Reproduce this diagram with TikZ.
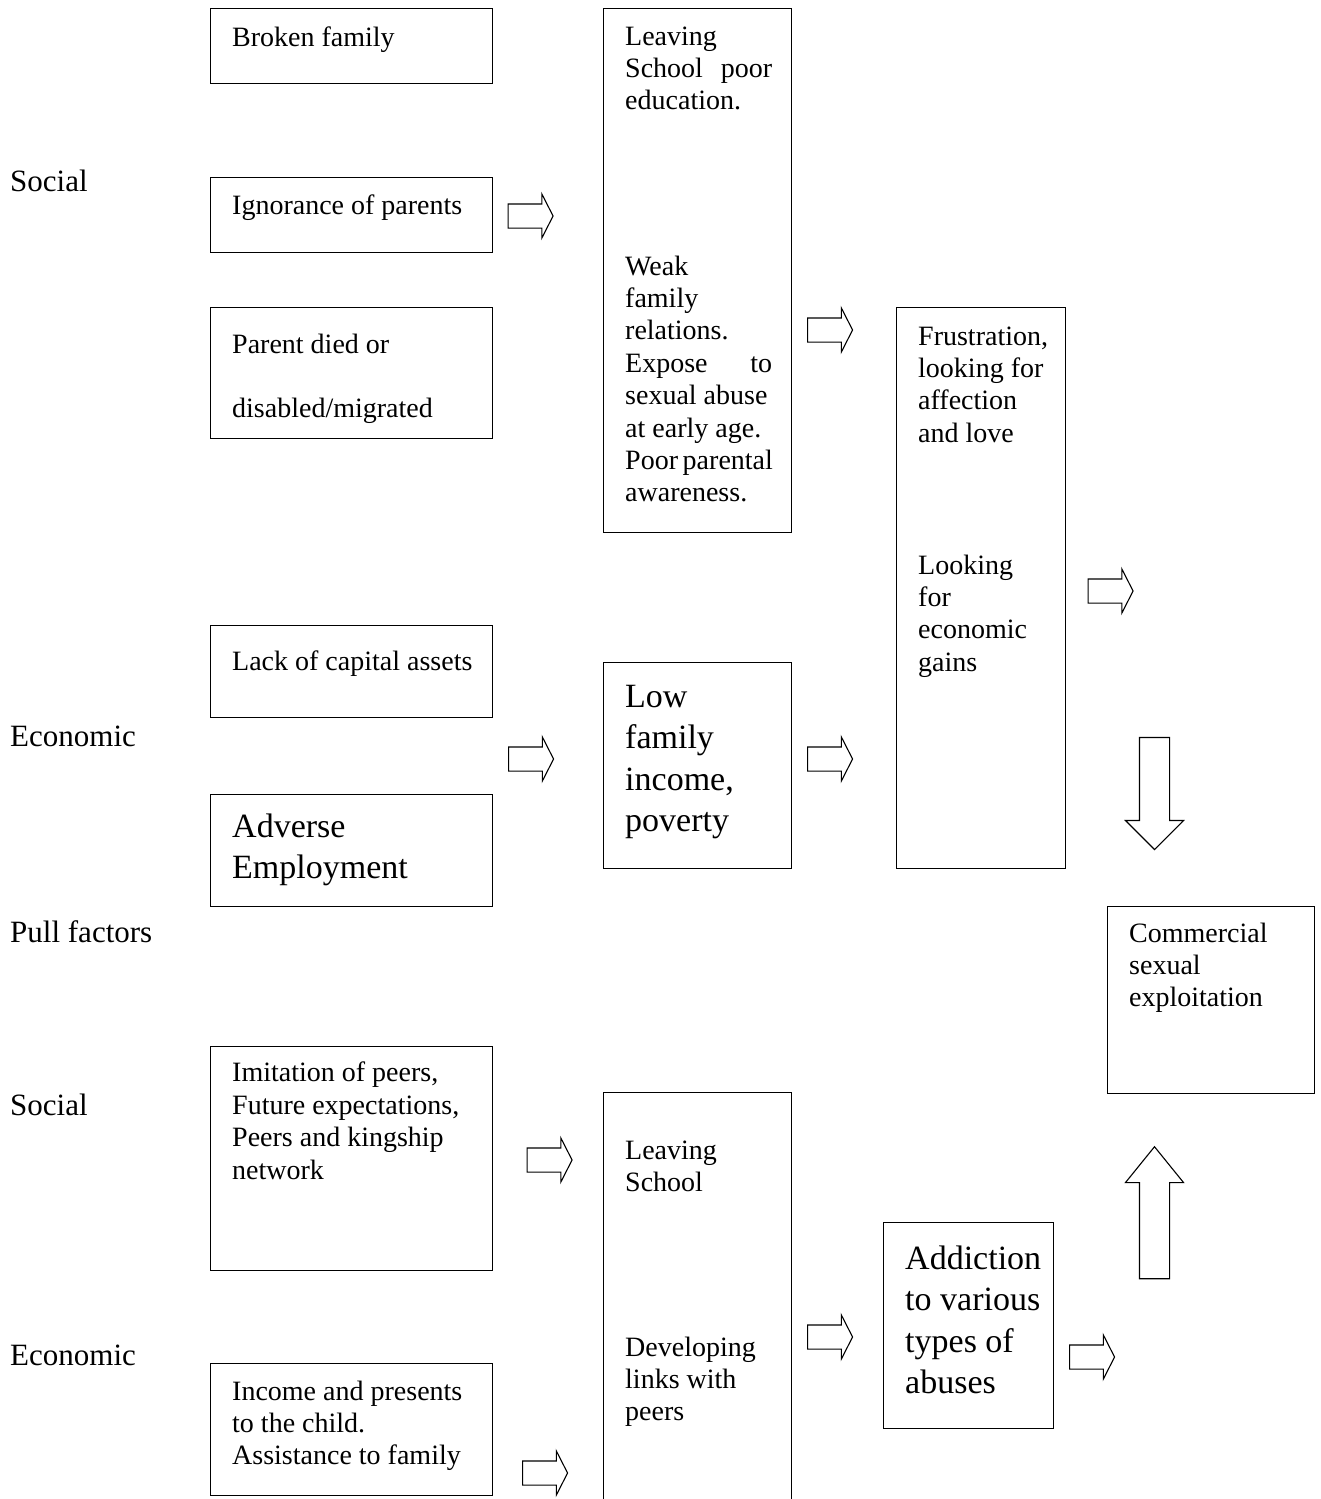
\documentclass[tikz,border=0pt]{standalone}
\usepackage{fontspec}
\setmainfont{Liberation Serif}
\usetikzlibrary{shapes.arrows}

\begin{document}
\begin{tikzpicture}[x=1pt, y=-1pt,
  box/.style={draw, line width=1.3pt, anchor=north west, inner sep=0pt},
  txt/.style={anchor=base west, inner sep=0pt, align=left, font=\fontsize{28}{32.4}\selectfont},
  bigtxt/.style={txt, font=\fontsize{34}{41.6}\selectfont},
  side/.style={anchor=base west, inner sep=0pt, font=\fontsize{31}{36}\selectfont},
  blockarrow/.style={draw, single arrow, line width=1.1pt, inner xsep=0pt, inner ysep=11.5pt, single arrow head extend=10pt, single arrow tip angle=126, minimum height=45pt},
  bigarrow/.style={draw, single arrow, line width=1.1pt, inner xsep=0pt, inner ysep=14.5pt, single arrow head extend=14pt}]
\useasboundingbox (0,0) rectangle (1321,1499);
% side labels
\node[side] (social1) at (10,191) {Social};
\node[side] (econ1) at (10,746) {Economic};
\node[side] (pull) at (10,942) {Pull factors};
\node[side] (social2) at (10,1115) {Social};
\node[side] (econ2) at (10,1365) {Economic};
%
% push factors
\node[box, minimum width=282, minimum height=75] (broken) at (210,8) {};
\node[box, minimum width=282, minimum height=75] (ignorance) at (210,177) {};
\node[box, minimum width=282, minimum height=131] (parent) at (210,307) {};
\node[box, minimum width=188, minimum height=524] (school) at (603,8) {};
\node[box, minimum width=169, minimum height=561] (frustration) at (896,307) {};
\node[box, minimum width=282, minimum height=92] (capital) at (210,625) {};
\node[box, minimum width=282, minimum height=112] (adverse) at (210,794) {};
\node[box, minimum width=188, minimum height=206] (income) at (603,662) {};
\node[box, minimum width=207, minimum height=187] (commercial) at (1107,906) {};
%
% (multi-line texts sit on their last baseline)
\node[txt] (brokentxt) at (232,46) {Broken family};
\node[txt] (ignorancetxt) at (232,214) {Ignorance of parents};
\node[txt] (parenttxt) at (232,417) {Parent died or\\[31.6pt]disabled/migrated};
\node[txt] (schooltxt) at (625,109.8) {Leaving\\\makebox[147pt][s]{School poor}\\education.};
\node[txt] (familytxt) at (625,501.8) {Weak\\family\\relations.\\\makebox[147pt][s]{Expose to}\\sexual abuse\\at early age.\\\makebox[147pt][s]{Poor parental}\\awareness.};
\node[txt] (frustrationtxt) at (918,442.2) {Frustration,\\looking for\\affection\\and love};
\node[txt] (gainstxt) at (918,671.2) {Looking\\for\\economic\\gains};
\node[txt] (capitaltxt) at (232,670) {Lack of capital assets};
\node[bigtxt] (adversetxt) at (232,878.6) {Adverse\\Employment};
\node[bigtxt] (incometxt) at (625,831.8) {Low\\family\\income,\\poverty};
\node[txt] (commercialtxt) at (1129,1006.8) {Commercial\\sexual\\exploitation};
%
% pull factors
\node[box, minimum width=282, minimum height=224] (imitation) at (210,1046) {};
\node[box, minimum width=188, minimum height=430] (leaving) at (603,1092) {};
\node[box, minimum width=170, minimum height=206] (addiction) at (883,1222) {};
\node[box, minimum width=282, minimum height=132] (presents) at (210,1363) {};
%
\node[txt] (imitationtxt) at (232,1179) {Imitation of peers,\\Future expectations,\\Peers and kingship\\network};
\node[txt] (leavingtxt) at (625,1191.4) {Leaving\\School};
\node[txt] (linkstxt) at (625,1420.8) {Developing\\links with\\peers};
\node[bigtxt] (addictiontxt) at (905,1393.8) {Addiction\\to various\\types of\\abuses};
\node[txt] (presentstxt) at (232,1464.8) {Income and presents\\to the child.\\Assistance to family};
%
% block arrows
\node[blockarrow] (a1) at (527.5,216) {};
\node[blockarrow] (a2) at (827,330) {};
\node[blockarrow] (a3) at (1107.5,591) {};
\node[blockarrow] (a4) at (528,759) {};
\node[blockarrow] (a5) at (827,759) {};
\node[blockarrow] (a6) at (546.5,1160) {};
\node[blockarrow] (a7) at (827,1337) {};
\node[blockarrow] (a8) at (1089,1357) {};
\node[blockarrow] (a9) at (542,1473) {};
\node[bigarrow, rotate=-90, minimum height=112, single arrow tip angle=90] (down) at (1154.5,786) {};
\node[bigarrow, rotate=90, minimum height=132, single arrow tip angle=78] (up) at (1154.5,1222) {};
\end{tikzpicture}
\end{document}
